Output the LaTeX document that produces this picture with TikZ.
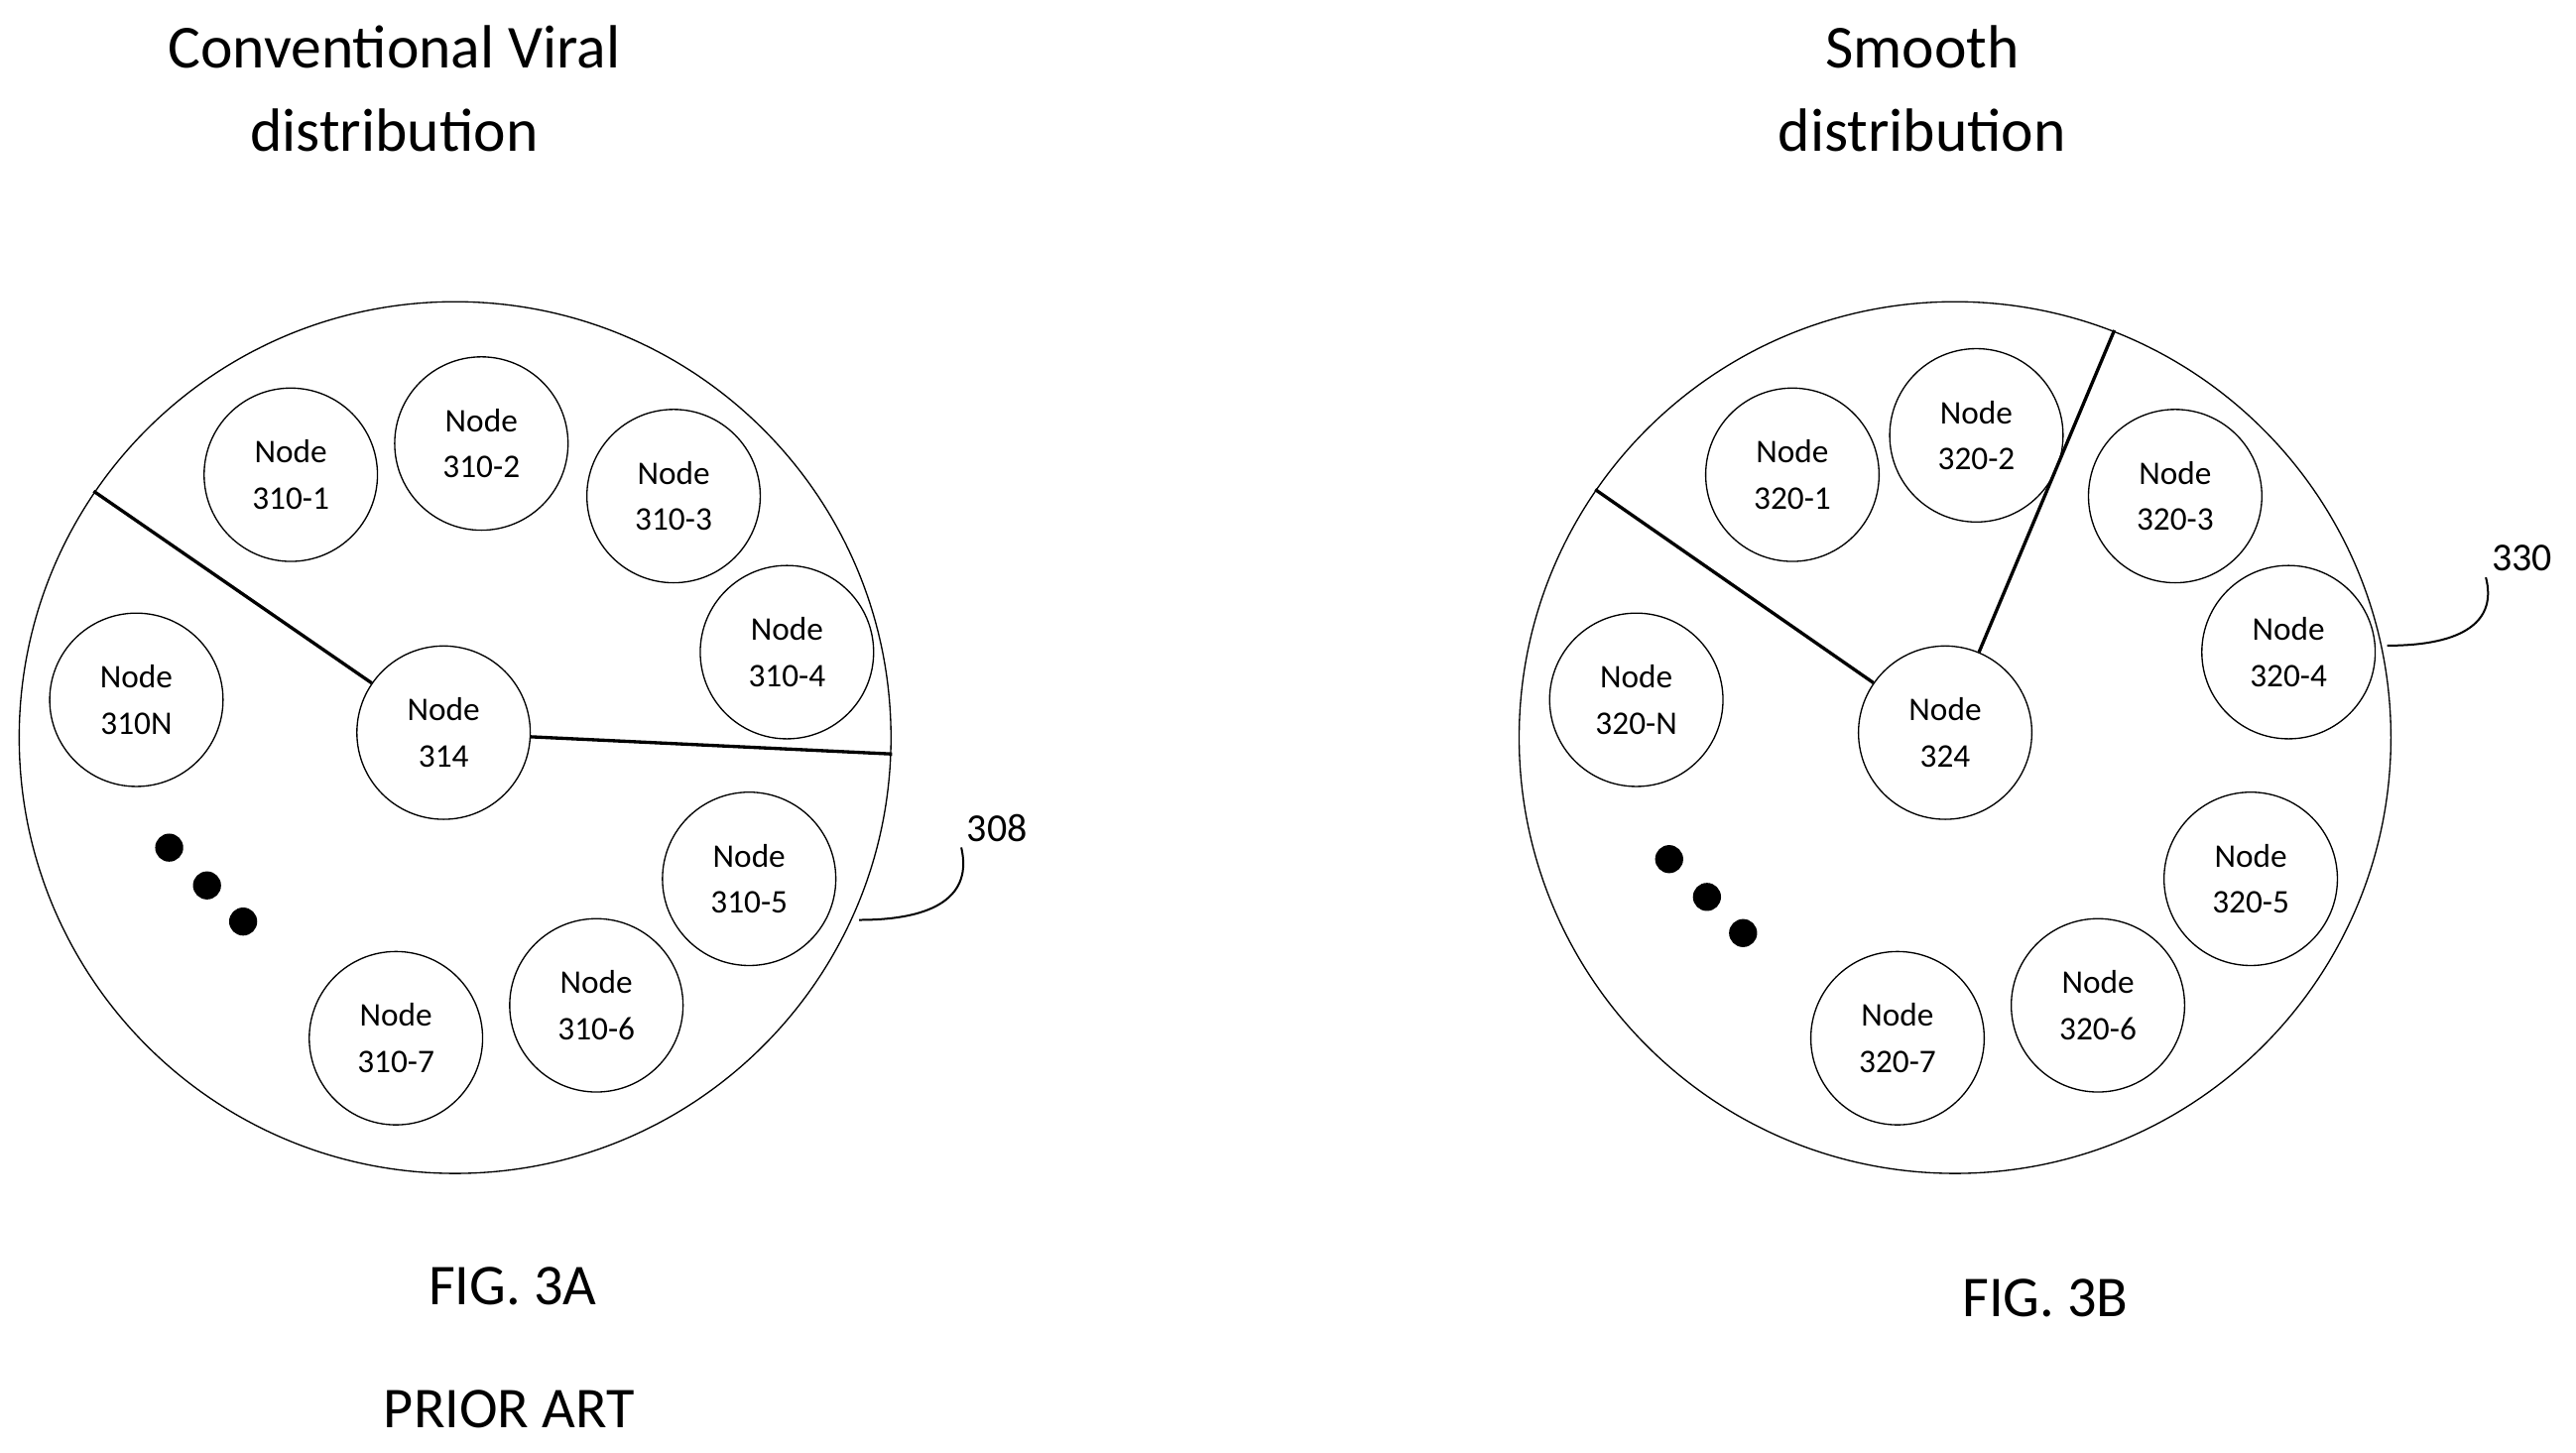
\documentclass[tikz,border=0pt]{standalone}
\usepackage{fontspec}
\setmainfont{Carlito}
\begin{document}
\begin{tikzpicture}[x=0.995pt,y=-0.995pt,
  nd/.style={circle,draw,line width=0.8pt,minimum size=105pt,inner sep=0pt,align=center,font=\fontsize{20}{28}\selectfont},
  big/.style={circle,draw,line width=0.8pt,inner sep=0pt},
  ln/.style={line width=2pt},
  dot/.style={circle,fill,minimum size=17pt,inner sep=0pt},
  ttl/.style={align=center,font=\fontsize{37}{50}\selectfont},
  lbl/.style={font=\fontsize{24}{28}\selectfont}]
\useasboundingbox (0,0) rectangle (1568,884);
% Left
\node[big,minimum size=528pt] (L) at (277,449) {};
\node[nd] (a1) at (177,289) {Node\\310-1};
\node[nd] (a2) at (293,270) {Node\\310-2};
\node[nd] (a3) at (410,302) {Node\\310-3};
\node[nd] (a4) at (479,397) {Node\\310-4};
\node[nd] (aN) at (83,426) {Node\\310N};
\node[nd] (a0) at (270,446) {Node\\314};
\node[nd] (a5) at (456,535) {Node\\310-5};
\node[nd] (a6) at (363,612) {Node\\310-6};
\node[nd] (a7) at (241,632) {Node\\310-7};
\node[dot] (ad1) at (103,516) {};
\node[dot] (ad2) at (126,539) {};
\node[dot] (ad3) at (148,561) {};
\coordinate (ae1) at (57,299);
\coordinate (ae2) at (543,459);
\draw[ln] (a0) -- (ae1);
\draw[ln] (a0) -- (ae2);
\node[lbl] (l308) at (607,504) {308};
\coordinate (ac) at (523,560);
\draw[line width=1.2pt] (ac) .. controls (570,560) and (592,545) .. (l308.south west);
\node[ttl] (t1) at (240,54) {Conventional Viral\\distribution};
\node[lbl,font=\fontsize{35}{40}\selectfont] (f1) at (312,783) {FIG. 3A};
\node[lbl,font=\fontsize{35}{40}\selectfont] (p1) at (310,858) {PRIOR ART};
% Right
\node[big,minimum size=528pt] (R) at (1190,449) {};
\node[nd] (b1) at (1091,289) {Node\\320-1};
\node[nd] (b2) at (1203,265) {Node\\320-2};
\node[nd] (b3) at (1324,302) {Node\\320-3};
\node[nd] (b4) at (1393,397) {Node\\320-4};
\node[nd] (bN) at (996,426) {Node\\320-N};
\node[nd] (b0) at (1184,446) {Node\\324};
\node[nd] (b5) at (1370,535) {Node\\320-5};
\node[nd] (b6) at (1277,612) {Node\\320-6};
\node[nd] (b7) at (1155,632) {Node\\320-7};
\node[dot] (bd1) at (1016,523) {};
\node[dot] (bd2) at (1039,546) {};
\node[dot] (bd3) at (1061,568) {};
\coordinate (be1) at (971,298);
\coordinate (be2) at (1287,201);
\draw[ln] (b0) -- (be1);
\draw[ln] (b0) -- (be2);
\node[lbl] (l330) at (1535,340) {330};
\coordinate (bc) at (1453,393);
\draw[line width=1.2pt] (bc) .. controls (1500,393) and (1520,378) .. (l330.south west);
\node[ttl] (t2) at (1170,54) {Smooth\\distribution};
\node[lbl,font=\fontsize{35}{40}\selectfont] (f2) at (1245,790) {FIG. 3B};
\end{tikzpicture}
\end{document}
